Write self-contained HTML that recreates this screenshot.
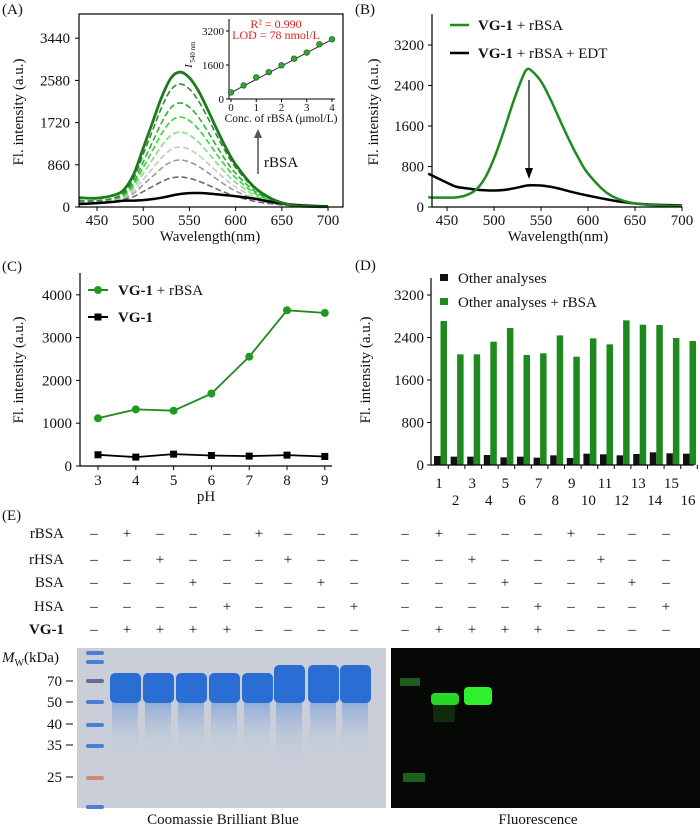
<!DOCTYPE html>
<html><head><meta charset="utf-8"><style>
body{margin:0;background:#fff;overflow:hidden}
svg{display:block;font-family:"Liberation Serif",serif}
text{fill:#111}
</style></head><body>
<svg id="fig" width="700" height="827" viewBox="0 0 700 827" xmlns="http://www.w3.org/2000/svg">
<defs>
<linearGradient id="smear" x1="0" y1="0" x2="0" y2="1"><stop offset="0" stop-color="#6f9ad8"/><stop offset="1" stop-color="#c6d0e0" stop-opacity="0"/></linearGradient>
</defs>
<g id="gA"></g>
<g id="gB"></g>
<g id="gC"></g>
<g id="gD"></g>
<g id="gE"></g>
</svg>
<script>
// ---- Panel A data ----
const wlA = [430,450,470,480,490,500,510,520,530,540,550,560,570,580,590,600,620,640,660,680,700];
const greenSolidA = [190,180,250,372,680,1200,1720,2240,2628,2750,2634,2359,1978,1571,1190,867,406,158,42,10,5];
const dashed1 = [130,125,193,309,594,1073,1553,2032,2390,2506,2404,2157,1813,1445,1101,806,384,156,49,15,10];
const dashed2 = [130,125,181,278,517,919,1321,1723,2023,2120,2034,1825,1535,1225,935,686,330,137,45,15,10];
const dashed3 = [130,125,172,255,460,805,1149,1494,1752,1834,1759,1579,1329,1062,812,597,290,122,42,15,10];
const dashed4 = [130,125,163,230,399,682,966,1249,1461,1528,1465,1316,1109,888,680,502,247,107,39,15,10];
const dashed5 = [130,125,154,206,338,560,783,1005,1171,1223,1172,1054,889,714,549,408,204,92,36,15,10];
const dashed6 = [110,110,146,185,285,454,624,793,919,958,918,826,699,563,435,326,167,79,34,15,10];
const dashed7 = [90,95,136,157,215,315,416,516,590,611,585,527,449,365,286,218,119,61,30,15,10];
const blackA = [60,80,110,130,130,140,160,190,230,265,283,285,275,258,240,220,170,100,50,25,15];
const yTicksA = [0,860,1720,2580,3440];
const xTicksA = [450,500,550,600,650,700];
const insetConc = [0,0.5,1,1.5,2,2.5,3,3.5,4];
const insetI = [312,640,1015,1265,1590,1900,2185,2575,2810];
const insetYTicks = [0,1600,3200];
const insetXTicks = [0,1,2,3,4];
// ---- Panel B data ----
const wlB = [430,450,460,470,480,490,500,510,520,530,535,540,550,560,570,580,590,600,620,640,660,680,700];
const greenB = [190,185,190,230,330,560,960,1480,2050,2550,2720,2690,2480,2130,1720,1320,960,660,280,110,50,30,20];
const blackB = [660,480,400,370,345,330,325,335,365,405,425,430,425,400,360,310,265,225,150,90,55,40,30];
const yTicksB = [0,800,1600,2400,3200];
const xTicksB = [450,500,550,600,650,700];
// ---- Panel C data ----
const pH = [3,4,5,6,7,8,9];
const greenC = [1115,1323,1292,1692,2554,3638,3577];
const blackC = [262,208,277,246,231,254,223];
const yTicksC = [0,1000,2000,3000,4000];
// ---- Panel D data ----
const groupsD = [1,2,3,4,5,6,7,8,9,10,11,12,13,14,15,16];
const otherD = [170,157,157,188,144,157,138,182,132,213,201,182,207,238,220,213];
const otherRbsaD = [2710,2083,2083,2321,2578,2070,2102,2440,2039,2384,2271,2723,2641,2635,2390,2334];
const yTicksD = [0,800,1600,2400,3200];
// ---- Panel E data ----
const rowsE = ["rBSA","rHSA","BSA","HSA","VG-1"];
const signsE = [
 "-+---+---","--+---+--","---+---+-","----+---+","-++++----"];
const mwLabels = [70,50,40,35,25];
const mwY = [681,702,724,745,777];

const NS="http://www.w3.org/2000/svg";
function mk(parent,tag,attrs,txt){const e=document.createElementNS(NS,tag);for(const k in attrs)e.setAttribute(k,attrs[k]);if(txt!==undefined)e.textContent=txt;parent.appendChild(e);return e;}
function pathOf(xs,ys,fx,fy){return xs.map((x,i)=>(i?'L':'M')+fx(x).toFixed(1)+','+fy(ys[i]).toFixed(1)).join('');}
function smooth(xs,ys,fx,fy){const p=xs.map((x,i)=>[fx(x),fy(ys[i])]);let d='M'+p[0][0]+','+p[0][1];for(let i=0;i<p.length-1;i++){const p0=p[i-1]||p[i],p1=p[i],p2=p[i+1],p3=p[i+2]||p2;const c1=[p1[0]+(p2[0]-p0[0])/6,p1[1]+(p2[1]-p0[1])/6],c2=[p2[0]-(p3[0]-p1[0])/6,p2[1]-(p3[1]-p1[1])/6];d+='C'+c1.join(',')+' '+c2.join(',')+' '+p2.join(',');}return d;}

// ===== Panel A =====
const gA=document.getElementById('gA');
const xA=l=>79+(l-430.5)*0.924, yA=v=>207-v*42.2/860;
let t=mk(gA,'text',{x:2,y:14,'font-size':15},'(A)');


const dashColsUsed=["#2e8b2e","#2fb02f","#33d633","#7ee07e","#c8c8c8","#9a9a9a","#6a6a6a"];
const dashSets=[dashed1,dashed2,dashed3,dashed4,dashed5,dashed6,dashed7];
for(let i=dashSets.length-1;i>=0;i--){
 const p=mk(gA,'path',{d:smooth(wlA,dashSets[i],xA,yA),fill:'none',stroke:dashColsUsed[i],'stroke-width':1.6,'stroke-dasharray':'6,3'});
 
 }
let p=mk(gA,'path',{d:smooth(wlA,blackA,xA,yA),fill:'none',stroke:'#000','stroke-width':2.5});


p=mk(gA,'path',{d:smooth(wlA,greenSolidA,xA,yA),fill:'none',stroke:'#1f7a1f','stroke-width':2.8});


mk(gA,'rect',{x:79,y:14,width:264,height:193,fill:'none',stroke:'#000','stroke-width':1.2});
yTicksA.forEach(v=>{mk(gA,'line',{x1:75,x2:79,y1:yA(v),y2:yA(v),stroke:'#000'});
 const e=mk(gA,'text',{x:70,y:yA(v)+5,'font-size':15,'text-anchor':'end'},v);
 
 });
xTicksA.forEach(v=>{mk(gA,'line',{x1:xA(v),x2:xA(v),y1:207,y2:211,stroke:'#000'});
 const e=mk(gA,'text',{x:xA(v),y:225,'font-size':15,'text-anchor':'middle'},v);
 
 });
t=mk(gA,'text',{x:210,y:241,'font-size':15,'text-anchor':'middle'},'Wavelength(nm)');


t=mk(gA,'text',{x:0,y:0,'font-size':15,'text-anchor':'middle',transform:'translate(23,112) rotate(-90)'},'Fl. intensity (a.u.)');


mk(gA,'line',{x1:258,y1:174,x2:258,y2:136,stroke:'#555','stroke-width':1.5});
mk(gA,'path',{d:'M254,138 L258,129 L262,138 Z',fill:'#555'});
t=mk(gA,'text',{x:264,y:167,'font-size':15},'rBSA');


const xI=c=>231+c*101/4, yI=v=>99-v*68/3200;
mk(gA,'path',{d:'M229,19 L229,99 L335,99',fill:'none',stroke:'#000','stroke-width':1});
insetYTicks.forEach(v=>{mk(gA,'line',{x1:226,x2:229,y1:yI(v),y2:yI(v),stroke:'#000'});
 const e=mk(gA,'text',{x:224,y:yI(v)+4,'font-size':11,'text-anchor':'end'},v);
 
 });
insetXTicks.forEach(v=>{mk(gA,'line',{x1:xI(v),x2:xI(v),y1:99,y2:102,stroke:'#000'});
 const e=mk(gA,'text',{x:xI(v),y:111,'font-size':11,'text-anchor':'middle'},v);
 
 });
mk(gA,'line',{x1:xI(0),y1:yI(300),x2:xI(4),y2:yI(2800),stroke:'#333','stroke-width':1});
insetConc.forEach((c,i)=>{const e=mk(gA,'circle',{cx:xI(c),cy:yI(insetI[i]),r:2.8,fill:'#2fa82f',stroke:'#1a5a1a','stroke-width':0.7});
 
 });
t=mk(gA,'text',{x:281,y:122,'font-size':11.5,'text-anchor':'middle'},'Conc. of rBSA (μmol/L)');


t=mk(gA,'text',{x:276,y:28,'font-size':12,'text-anchor':'middle',style:'fill:#e82020'},'R² = 0.990');


t=mk(gA,'text',{x:276,y:39,'font-size':12,'text-anchor':'middle',style:'fill:#e82020'},'LOD = 78 nmol/L');


t=mk(gA,'text',{x:0,y:0,'font-size':11,'font-style':'italic','text-anchor':'middle',transform:'translate(192,66) rotate(-90)'},'I');


mk(gA,'text',{x:0,y:0,'font-size':7,'text-anchor':'middle',transform:'translate(195,52) rotate(-90)'},'540 nm');

// ===== Panel B =====
const gB=document.getElementById('gB');
const xB=l=>432+(l-434)*0.94, yB=v=>207-v*162/3200;
t=mk(gB,'text',{x:355,y:14,'font-size':15},'(B)');


p=mk(gB,'path',{d:smooth(wlB,blackB,xB,yB),fill:'none',stroke:'#000','stroke-width':2.5});


p=mk(gB,'path',{d:smooth(wlB,greenB,xB,yB),fill:'none',stroke:'#1f8a1f','stroke-width':2.5});


mk(gB,'path',{d:'M432,14 L432,207 L682,207',fill:'none',stroke:'#000','stroke-width':1.2});
yTicksB.forEach(v=>{mk(gB,'line',{x1:428,x2:432,y1:yB(v),y2:yB(v),stroke:'#000'});
 const e=mk(gB,'text',{x:424,y:yB(v)+5,'font-size':15,'text-anchor':'end'},v);
 
 });
xTicksB.forEach(v=>{mk(gB,'line',{x1:xB(v),x2:xB(v),y1:207,y2:211,stroke:'#000'});
 const e=mk(gB,'text',{x:xB(v),y:225,'font-size':15,'text-anchor':'middle'},v);
 
 });
t=mk(gB,'text',{x:558,y:241,'font-size':15,'text-anchor':'middle'},'Wavelength(nm)');


t=mk(gB,'text',{x:0,y:0,'font-size':15,'text-anchor':'middle',transform:'translate(378,112) rotate(-90)'},'Fl. intensity (a.u.)');


mk(gB,'line',{x1:529,y1:80,x2:529,y2:170,stroke:'#000','stroke-width':1.2});
mk(gB,'path',{d:'M525,168 L529,179 L533,168 Z',fill:'#000'});
mk(gB,'line',{x1:450,y1:25,x2:469,y2:25,stroke:'#1f8a1f','stroke-width':2.5});
t=mk(gB,'text',{x:478,y:30,'font-size':15},'');
t.innerHTML='<tspan font-weight="bold">VG-1</tspan> + rBSA';


mk(gB,'line',{x1:450,y1:53,x2:469,y2:53,stroke:'#000','stroke-width':2.5});
t=mk(gB,'text',{x:478,y:58,'font-size':15},'');
t.innerHTML='<tspan font-weight="bold">VG-1</tspan> + rBSA + EDT';



// ===== Panel C =====
const gC=document.getElementById('gC');
const xC=v=>98+(v-3)*37.8, yC=v=>466-v*0.0428;
t=mk(gC,'text',{x:2,y:271,'font-size':15},'(C)');


mk(gC,'path',{d:'M80,273 L80,466 L332,466',fill:'none',stroke:'#000','stroke-width':1.2});
yTicksC.forEach(v=>{mk(gC,'line',{x1:76,x2:80,y1:yC(v),y2:yC(v),stroke:'#000'});
 const e=mk(gC,'text',{x:72,y:yC(v)+5,'font-size':15,'text-anchor':'end'},v);
 
 });
pH.forEach(v=>{mk(gC,'line',{x1:xC(v),x2:xC(v),y1:466,y2:470,stroke:'#000'});
 const e=mk(gC,'text',{x:xC(v),y:485,'font-size':15,'text-anchor':'middle'},v);
 
 });
t=mk(gC,'text',{x:206,y:501,'font-size':15,'text-anchor':'middle'},'pH');


t=mk(gC,'text',{x:0,y:0,'font-size':15,'text-anchor':'middle',transform:'translate(23,370) rotate(-90)'},'Fl. intensity (a.u.)');


p=mk(gC,'path',{d:pathOf(pH,greenC,xC,yC),fill:'none',stroke:'#1f8a1f','stroke-width':1.8});


p=mk(gC,'path',{d:pathOf(pH,blackC,xC,yC),fill:'none',stroke:'#000','stroke-width':1.8});


pH.forEach((v,i)=>{let e=mk(gC,'circle',{cx:xC(v),cy:yC(greenC[i]),r:4,fill:'#1f9a1f'});
 
 
 e=mk(gC,'rect',{x:xC(v)-3.5,y:yC(blackC[i])-3.5,width:7,height:7,fill:'#000'});
 
 });
mk(gC,'line',{x1:88,y1:290,x2:108,y2:290,stroke:'#1f8a1f','stroke-width':2});
mk(gC,'circle',{cx:98,cy:290,r:4,fill:'#1f9a1f'});
t=mk(gC,'text',{x:118,y:295,'font-size':15},'');
t.innerHTML='<tspan font-weight="bold">VG-1</tspan> + rBSA';


mk(gC,'line',{x1:88,y1:317,x2:108,y2:317,stroke:'#000','stroke-width':2});
mk(gC,'rect',{x:94.5,y:313.5,width:7,height:7,fill:'#000'});
t=mk(gC,'text',{x:118,y:322,'font-size':15,'font-weight':'bold'},'VG-1');



// ===== Panel D =====
const gD=document.getElementById('gD');
const xD=g=>440+(g-1)*16.6, yD=v=>465-v*42.5/800;
t=mk(gD,'text',{x:355,y:270,'font-size':15},'(D)');


groupsD.forEach((g,i)=>{let e=mk(gD,'rect',{x:xD(g)-6,y:yD(otherD[i]),width:6.5,height:465-yD(otherD[i]),fill:'#111'});
 
 
 e=mk(gD,'rect',{x:xD(g)+0.5,y:yD(otherRbsaD[i]),width:6.5,height:465-yD(otherRbsaD[i]),fill:'#1e8a1e'});
 
 
 mk(gD,'line',{x1:xD(g)+8.3,x2:xD(g)+8.3,y1:465,y2:469,stroke:'#000'});
 e=mk(gD,'text',{x:xD(g)-1,y:g%2?488:505,'font-size':15,'text-anchor':'middle'},g);
 
 });
mk(gD,'path',{d:'M431,278 L431,465 L694,465',fill:'none',stroke:'#000','stroke-width':1.2});
yTicksD.forEach(v=>{mk(gD,'line',{x1:427,x2:431,y1:yD(v),y2:yD(v),stroke:'#000'});
 const e=mk(gD,'text',{x:424,y:yD(v)+5,'font-size':15,'text-anchor':'end'},v);
 
 });
t=mk(gD,'text',{x:0,y:0,'font-size':15,'text-anchor':'middle',transform:'translate(370,370) rotate(-90)'},'Fl. intensity (a.u.)');


mk(gD,'rect',{x:440,y:274,width:8,height:7,fill:'#111'});
t=mk(gD,'text',{x:458,y:283,'font-size':15},'Other analyses');


mk(gD,'rect',{x:440,y:298,width:8,height:7,fill:'#1e8a1e'});
t=mk(gD,'text',{x:458,y:307,'font-size':15},'Other analyses + rBSA');



// ===== Panel E =====
const gE=document.getElementById('gE');
t=mk(gE,'text',{x:2,y:520,'font-size':15},'(E)');


const colL=[94,127,160,193,227,259,288,321,354], colR=[405,439,472,505,538,571,601,632,666];
const rowY=[533,559,582,606,629];
rowsE.forEach((r,i)=>{const e=mk(gE,'text',{x:64,y:rowY[i]+5,'font-size':15,'text-anchor':'end','font-weight':r==='VG-1'?'bold':'normal'},r);
 
 
 [colL,colR].forEach(cols=>cols.forEach((x,j)=>{const s=signsE[i][j]==='+'?'+':'–';
  const c=mk(gE,'text',{x:x,y:rowY[i]+5,'font-size':15,'text-anchor':'middle'},s);
  
  }));});
t=mk(gE,'text',{x:2,y:662,'font-size':15},'');
t.innerHTML='<tspan font-style="italic">M</tspan><tspan font-size="10" dy="4">W</tspan><tspan dy="-4">(kDa)</tspan>';


mwLabels.forEach((m,i)=>{const e=mk(gE,'text',{x:62,y:mwY[i]+5,'font-size':15,'text-anchor':'end'},m);
 
 
 mk(gE,'line',{x1:66,x2:73,y1:mwY[i],y2:mwY[i],stroke:'#000'});});
// left gel
const lg=mk(gE,'g',{});


mk(lg,'rect',{x:77,y:648,width:309,height:160,fill:'#c9ced8'});
[653,662,681,702,725,746,778,807].forEach((y,i)=>mk(lg,'rect',{x:86,y:y-2,width:18,height:4,rx:2,fill:i===6?'#d08878':(i===2?'#6a6a9a':'#4a80d0')}));
const laneX=[110,143,176,209,242,274,308,340];
laneX.forEach((x,i)=>{mk(lg,'rect',{x:x+2,y:700,width:26,height:i===5?65:55,fill:'url(#smear)',opacity:0.7});
 mk(lg,'rect',{x:x,y:i>=5?665:673,width:31,height:i>=5?38:30,rx:5,fill:'#2a6ed4'});});
t=mk(gE,'text',{x:223,y:824,'font-size':15,'text-anchor':'middle'},'Coomassie Brilliant Blue');


// right gel
const rg=mk(gE,'g',{});


mk(rg,'rect',{x:391,y:648,width:309,height:160,fill:'#050805'});
mk(rg,'rect',{x:400,y:678,width:20,height:8,fill:'#1f5a1f'});
mk(rg,'rect',{x:403,y:773,width:22,height:9,fill:'#1d5f1d'});
mk(rg,'rect',{x:433,y:700,width:22,height:22,fill:'#154515',opacity:0.6});
mk(rg,'rect',{x:431,y:693,width:28,height:12,rx:4,fill:'#27d827'});
mk(rg,'rect',{x:464,y:687,width:28,height:18,rx:4,fill:'#2ef02e'});
t=mk(gE,'text',{x:538,y:824,'font-size':15,'text-anchor':'middle'},'Fluorescence');


</script>
</body></html>
